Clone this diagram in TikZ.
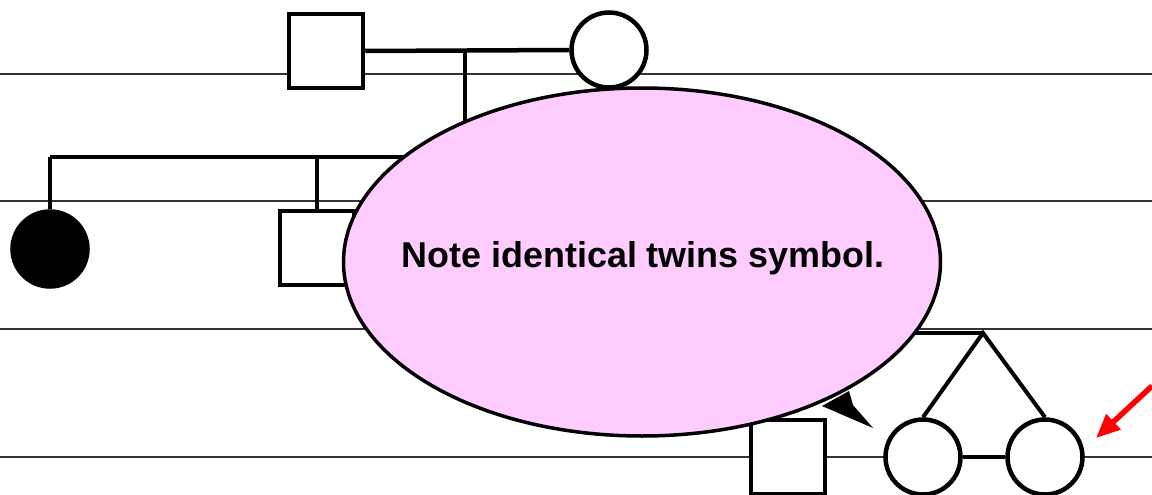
\documentclass[tikz,border=0pt]{standalone}
\usepackage{fontspec}
\setmainfont{Liberation Sans}
\usetikzlibrary{shapes.geometric,arrows.meta}
\definecolor{notepink}{HTML}{FFCCFF}
\definecolor{gridline}{HTML}{333333}
\begin{document}
\begin{tikzpicture}[x=1pt,y=-1pt,
  rule/.style={draw=gridline,line width=2.5pt},
  kin/.style={draw=black,line width=4.5pt},
  male/.style={draw=black,line width=4.5pt,fill=white,minimum size=74pt,inner sep=0pt,rectangle},
  female/.style={draw=black,line width=4.5pt,fill=white,minimum size=75pt,inner sep=0pt,circle},
  affected/.style={female,fill=black},
  note/.style={draw=black,line width=3.5pt,fill=notepink,ellipse,minimum width=597pt,minimum height=348pt,inner sep=0pt},
  notetext/.style={font=\bfseries\fontsize{35.9}{40}\selectfont}]
\useasboundingbox (0,0) rectangle (1152,495);
% generation rules
\foreach \y in {74,201,329,457} \draw[rule] (0,\y) -- (1152,\y);
% generation I
\node[male] (m1) at (326,51) {};
\node[female] (f1) at (609,50) {};
\draw[kin] (m1.east) -- (f1.west);
\coordinate (d1) at (465,50);
\coordinate (d1b) at (465,157);
\draw[kin] (d1) -- (d1b);
% generation II
\coordinate (s1) at (50,157);
\coordinate (s2) at (317,157);
\coordinate (s3) at (700,157);
\draw[kin] (s1) -- (s3);
\node[affected] (c1) at (50,249) {};
\node[male] (c2) at (317,248) {};
\draw[kin] (s1) -- (c1.north);
\draw[kin] (s2) -- (c2.north);
% generation III
\node[male] (g1) at (788,457) {};
\node[female] (t1) at (923,457) {};
\node[female] (t2) at (1045,457) {};
\coordinate (apex) at (983,333);
\coordinate (sib3) at (788,333);
\draw[kin] (sib3) -- (apex);
\draw[kin,line width=4pt] (t1.north) -- (apex) -- (t2.north);
\draw[kin] (t1.east) -- (t2.west);
% note
\node[note] (n) at (642,262) {};
\node[notetext] (nt) at (643,258) {Note identical twins symbol.};
\fill[black] (822,406) -- (849,391) -- (853,405) -- (873,428) -- cycle;
% red arrow
\coordinate (ra) at (1152,386);
\coordinate (rb) at (1096,438);
\draw[red,line width=5.5pt,-{Triangle[length=24pt,width=20pt]}] (ra) -- (rb);
\end{tikzpicture}
\end{document}
